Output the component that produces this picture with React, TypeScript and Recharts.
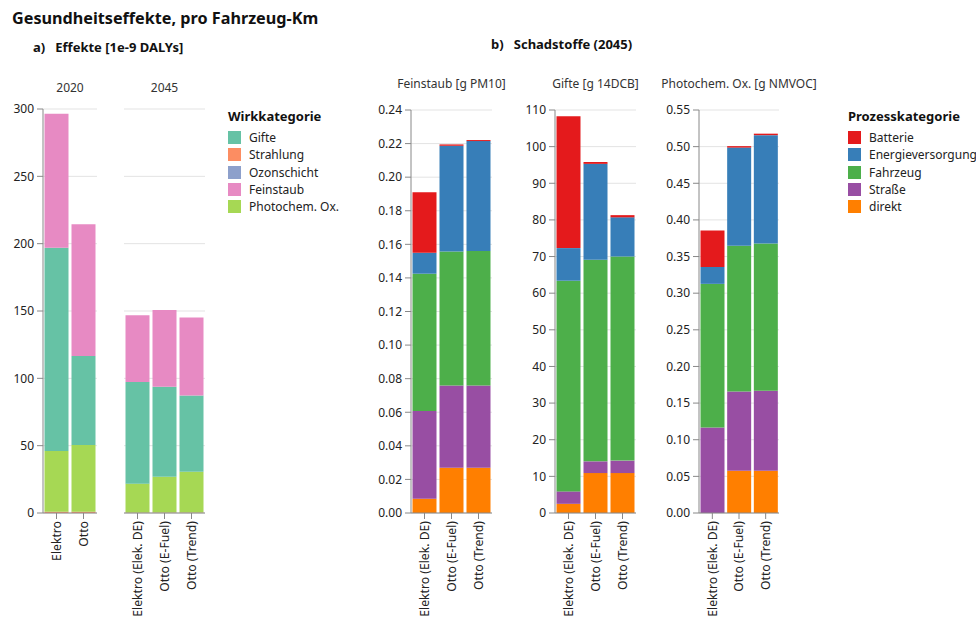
import { BarChart, Bar, XAxis, YAxis, CartesianGrid } from "recharts";

// Wirkkategorie (1e-9 DALYs)
const cats2020 = ["Elektro", "Otto"];
const cats2045 = ["Elektro (Elek. DE)", "Otto (E-Fuel)", "Otto (Trend)"];
const strahlung2020 = [1, 1];
const ozon2020 = [0, 0];
const photo2020 = [45, 49.5];
const gifte2020 = [151, 66];
const fein2020 = [99.5, 98];
const strahlung2045 = [0.3, 0.3, 0.3];
const ozon2045 = [0, 0, 0];
const photo2045 = [21.5, 26.7, 30.4];
const gifte2045 = [75.5, 66.8, 56.6];
const fein2045 = [49.5, 57, 57.8];
const dalyTicks = [0, 50, 100, 150, 200, 250, 300];

// Prozesskategorie, Feinstaub [g PM10]
const pmDirekt = [0.0085, 0.027, 0.027];
const pmStrasse = [0.0523, 0.049, 0.049];
const pmFahrzeug = [0.0817, 0.0797, 0.08];
const pmEnergie = [0.0125, 0.063, 0.0655];
const pmBatterie = [0.036, 0.0008, 0.0006];
const pmTicks = [0, 0.02, 0.04, 0.06, 0.08, 0.1, 0.12, 0.14, 0.16, 0.18, 0.2, 0.22, 0.24];

// Gifte [g 14DCB]
const toxDirekt = [2.5, 10.9, 10.9];
const toxStrasse = [3.4, 3.2, 3.4];
const toxFahrzeug = [57.5, 55, 55.7];
const toxEnergie = [8.9, 26.2, 10.7];
const toxBatterie = [36, 0.5, 0.6];
const toxTicks = [0, 10, 20, 30, 40, 50, 60, 70, 80, 90, 100, 110];

// Photochem. Ox. [g NMVOC]
const noxDirekt = [0, 0.0577, 0.0577];
const noxStrasse = [0.1167, 0.108, 0.109];
const noxFahrzeug = [0.196, 0.199, 0.201];
const noxEnergie = [0.023, 0.134, 0.148];
const noxBatterie = [0.05, 0.002, 0.002];
const noxTicks = [0, 0.05, 0.1, 0.15, 0.2, 0.25, 0.3, 0.35, 0.4, 0.45, 0.5, 0.55];

const wirkLegend = [
  { name: "Gifte", color: "#66c2a5" },
  { name: "Strahlung", color: "#fc8d62" },
  { name: "Ozonschicht", color: "#8da0cb" },
  { name: "Feinstaub", color: "#e78ac3" },
  { name: "Photochem. Ox.", color: "#a6d854" },
];
const prozessLegend = [
  { name: "Batterie", color: "#e41a1c" },
  { name: "Energieversorgung", color: "#377eb8" },
  { name: "Fahrzeug", color: "#4daf4a" },
  { name: "Straße", color: "#984ea3" },
  { name: "direkt", color: "#ff7f00" },
];

const FONT = "'Noto Sans', sans-serif";
const AXIS = "#888";
const GRID = "#e3e3e3";

function RotTick({ x, y, payload }: any) {
  return (
    <g transform={`translate(${x},${y})`}>
      <text transform="rotate(-90)" textAnchor="end" dy="0.35em" fontSize={12.2} fill="#222" fontFamily={FONT}>
        {payload.value}
      </text>
    </g>
  );
}

const wirkRows = (cats: string[], s: number[], o: number[], p: number[], g: number[], f: number[]) =>
  cats.map((c, i) => ({ cat: c, Strahlung: s[i], Ozonschicht: o[i], Photo: p[i], Gifte: g[i], Feinstaub: f[i] }));

const prozRows = (d: number[], s: number[], fz: number[], e: number[], b: number[]) =>
  cats2045.map((c, i) => ({ cat: c, direkt: d[i], Strasse: s[i], Fahrzeug: fz[i], Energie: e[i], Batterie: b[i] }));

function WirkChart({ data, left, width, showY }: any) {
  return (
    <div style={{ position: "absolute", left, top: 100 }}>
      <BarChart width={width} height={523} data={data} margin={{ top: 9, right: 0, bottom: 0, left: 0 }} barCategoryGap={1.5}>
        <CartesianGrid vertical={false} stroke={GRID} />
        <XAxis dataKey="cat" interval={0} height={110} stroke={AXIS} tick={<RotTick />} />
        <YAxis
          hide={!showY}
          width={43}
          domain={[0, 300]}
          ticks={dalyTicks}
          stroke={AXIS}
          tickMargin={3}
          tick={{ fontSize: 12, fill: "#222", fontFamily: FONT }}
        />
        <Bar dataKey="Strahlung" stackId="a" fill="#fc8d62" isAnimationActive={false} />
        <Bar dataKey="Ozonschicht" stackId="a" fill="#8da0cb" isAnimationActive={false} />
        <Bar dataKey="Photo" stackId="a" fill="#a6d854" isAnimationActive={false} />
        <Bar dataKey="Gifte" stackId="a" fill="#66c2a5" isAnimationActive={false} />
        <Bar dataKey="Feinstaub" stackId="a" fill="#e78ac3" isAnimationActive={false} />
      </BarChart>
    </div>
  );
}

function ProzChart({ data, left, yWidth, plotWidth, max, ticks, fmt, title }: any) {
  return (
    <div style={{ position: "absolute", left, top: 100 }}>
      <div
        style={{
          position: "absolute",
          left: yWidth,
          width: plotWidth,
          top: -25,
          fontSize: 12,
          color: "#333",
          whiteSpace: "nowrap",
          display: "flex",
          justifyContent: "center",
        }}
      >
        {title}
      </div>
      <BarChart width={yWidth + plotWidth} height={523} data={data} margin={{ top: 10, right: 0, bottom: 0, left: 0 }} barCategoryGap={1.5}>
        <CartesianGrid vertical={false} stroke={GRID} />
        <XAxis dataKey="cat" interval={0} height={110} stroke={AXIS} tick={<RotTick />} />
        <YAxis
          width={yWidth}
          domain={[0, max]}
          ticks={ticks}
          interval={0}
          stroke={AXIS}
          tickMargin={3}
          tickFormatter={fmt}
          tick={{ fontSize: 12, fill: "#222", fontFamily: FONT }}
        />
        <Bar dataKey="direkt" stackId="a" fill="#ff7f00" isAnimationActive={false} />
        <Bar dataKey="Strasse" stackId="a" fill="#984ea3" isAnimationActive={false} />
        <Bar dataKey="Fahrzeug" stackId="a" fill="#4daf4a" isAnimationActive={false} />
        <Bar dataKey="Energie" stackId="a" fill="#377eb8" isAnimationActive={false} />
        <Bar dataKey="Batterie" stackId="a" fill="#e41a1c" isAnimationActive={false} />
      </BarChart>
    </div>
  );
}

function Legend({ left, title, items }: any) {
  return (
    <div style={{ position: "absolute", left, top: 107, fontFamily: FONT }}>
      <div style={{ fontWeight: 700, fontSize: 13, color: "#111", height: 22 }}>{title}</div>
      {items.map((it: any) => (
        <div key={it.name} style={{ display: "flex", alignItems: "center", height: 17.3, fontSize: 12, color: "#222" }}>
          <span style={{ width: 13, height: 13, background: it.color, marginRight: 8, display: "inline-block" }} />
          {it.name}
        </div>
      ))}
    </div>
  );
}

export default function App() {
  const f2 = (v: number) => v.toFixed(2);
  return (
    <div style={{ position: "absolute", left: 0, top: 0, width: 976, height: 625, background: "#fff", fontFamily: FONT, color: "#111" }}>
      <div style={{ position: "absolute", left: 12, top: 7, fontSize: 16.2, fontWeight: 700 }}>Gesundheitseffekte, pro Fahrzeug-Km</div>
      <div style={{ position: "absolute", left: 33, top: 38, fontSize: 13, fontWeight: 700, whiteSpace: "pre" }}>a)   Effekte [1e-9 DALYs]</div>
      <div style={{ position: "absolute", left: 491, top: 35, fontSize: 13, fontWeight: 700, whiteSpace: "pre" }}>b)   Schadstoffe (2045)</div>

      <div style={{ position: "absolute", left: 43, width: 54, top: 79, fontSize: 12, color: "#333", textAlign: "center" }}>2020</div>
      <div style={{ position: "absolute", left: 124, width: 81, top: 79, fontSize: 12, color: "#333", textAlign: "center" }}>2045</div>

      <WirkChart data={wirkRows(cats2020, strahlung2020, ozon2020, photo2020, gifte2020, fein2020)} left={0} width={97} showY />
      <WirkChart data={wirkRows(cats2045, strahlung2045, ozon2045, photo2045, gifte2045, fein2045)} left={124} width={81} showY={false} />

      <Legend left={228} title="Wirkkategorie" items={wirkLegend} />

      <ProzChart
        data={prozRows(pmDirekt, pmStrasse, pmFahrzeug, pmEnergie, pmBatterie)}
        left={360}
        yWidth={51}
        plotWidth={81}
        max={0.24}
        ticks={pmTicks}
        fmt={f2}
        title="Feinstaub [g PM10]"
      />
      <ProzChart
        data={prozRows(toxDirekt, toxStrasse, toxFahrzeug, toxEnergie, toxBatterie)}
        left={510}
        yWidth={45}
        plotWidth={81}
        max={110}
        ticks={toxTicks}
        fmt={(v: number) => String(v)}
        title="Gifte [g 14DCB]"
      />
      <ProzChart
        data={prozRows(noxDirekt, noxStrasse, noxFahrzeug, noxEnergie, noxBatterie)}
        left={650}
        yWidth={49}
        plotWidth={80}
        max={0.55}
        ticks={noxTicks}
        fmt={f2}
        title="Photochem. Ox. [g NMVOC]"
      />

      <Legend left={848} title="Prozesskategorie" items={prozessLegend} />
    </div>
  );
}
